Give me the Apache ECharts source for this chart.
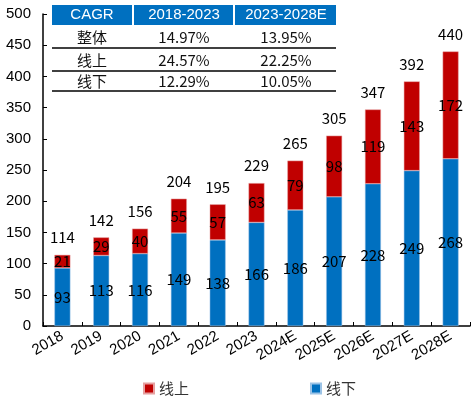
<!DOCTYPE html>
<html>
<head>
<meta charset="utf-8">
<script src="https://cdn.jsdelivr.net/npm/echarts@6/dist/echarts.min.js"></script>
<style>
  html, body { margin: 0; padding: 0; background: #fff; }
  #chart { width: 474px; height: 398px; }
</style>
</head>
<body>
<div id="chart"></div>
<script>
// 카테고리 / 시리즈 데이터
const years = ['2018', '2019', '2020', '2021', '2022', '2023', '2024E', '2025E', '2026E', '2027E', '2028E'];
const offline = [93, 113, 116, 149, 138, 166, 186, 207, 228, 249, 268];
const online = [21, 29, 40, 55, 57, 63, 79, 98, 119, 143, 172];
const totals = [114, 142, 156, 204, 195, 229, 265, 305, 347, 392, 440];

// CAGR 표
const cagrHeader = ['CAGR', '2018-2023', '2023-2028E'];
const cagrRows = ['整体', '线上', '线下'];
const cagrFirst = ['14.97%', '24.57%', '12.29%'];
const cagrSecond = ['13.95%', '22.25%', '10.05%'];

const RED = '#C00000';
const BLUE = '#0070C0';
const CJK = '"Noto Sans CJK SC", sans-serif';

const chart = echarts.init(document.getElementById('chart'));

// 표 그리기 (graphic)
const colX = [92, 184, 286];
const rowY = [37, 60, 81];
const tableLeft = 52, tableRight = 336;
const graphic = [
    { type: 'rect', shape: { x: tableLeft, y: 5, width: tableRight - tableLeft, height: 20 }, style: { fill: BLUE } },
    { type: 'line', shape: { x1: 133, y1: 5, x2: 133, y2: 25 }, style: { stroke: '#fff', lineWidth: 2 } },
    { type: 'line', shape: { x1: 234, y1: 5, x2: 234, y2: 25 }, style: { stroke: '#fff', lineWidth: 2 } }
];
[48, 71, 91].forEach(y => {
    graphic.push({ type: 'line', shape: { x1: tableLeft, y1: y, x2: tableRight, y2: y }, style: { stroke: '#000', lineWidth: 1.5 } });
});
cagrHeader.forEach((t, i) => {
    graphic.push({
        type: 'text', x: colX[i], y: 15,
        style: { text: t, fill: '#fff', font: '15px "Liberation Sans Narrow", "Liberation Sans", sans-serif', align: 'center', verticalAlign: 'middle' }
    });
});
cagrRows.forEach((t, r) => {
    const cells = [t, cagrFirst[r], cagrSecond[r]];
    cells.forEach((c, i) => {
        graphic.push({
            type: 'text', x: colX[i], y: rowY[r],
            style: { text: c, fill: '#111', font: '15px ' + CJK, align: 'center', verticalAlign: 'middle' }
        });
    });
});

const labelStyle = { show: true, position: 'inside', color: '#000', fontSize: 15, fontFamily: CJK };

const option = {
    animation: false,
    textStyle: { fontFamily: CJK },
    grid: { left: 43, right: 4, top: 14, bottom: 72, containLabel: false },
    legend: {
        bottom: 2,
        left: 143,
        padding: 0,
        itemWidth: 10,
        itemHeight: 10,
        itemGap: 121,
        icon: 'rect',
        data: ['线上', '线下'],
        textStyle: { fontSize: 15, color: '#333', fontFamily: CJK }
    },
    xAxis: {
        type: 'category',
        data: years,
        axisLine: { lineStyle: { color: '#000', width: 1.5 } },
        axisTick: { show: true, inside: true, length: 4, lineStyle: { color: '#000' } },
        axisLabel: { rotate: 30, color: '#000', fontSize: 15, fontFamily: 'Liberation Sans, Arial, sans-serif', margin: 9, interval: 0 }
    },
    yAxis: {
        type: 'value',
        min: 0,
        max: 500,
        interval: 50,
        splitLine: { show: false },
        axisLine: { show: true, lineStyle: { color: '#000', width: 1.5 } },
        axisTick: { show: true, inside: true, length: 4, lineStyle: { color: '#000' } },
        axisLabel: { color: '#000', fontSize: 15, fontFamily: 'Liberation Sans, Arial, sans-serif', margin: 12 }
    },
    series: [
        {
            name: '线下',
            type: 'bar',
            stack: 'total',
            barWidth: '41%',
            data: offline,
            itemStyle: { color: BLUE, borderColor: '#9cc3e6', borderWidth: 0.5 },
            label: labelStyle
        },
        {
            name: '线上',
            type: 'bar',
            stack: 'total',
            data: online,
            itemStyle: { color: RED, borderColor: '#e6a0a0', borderWidth: 0.5 },
            label: labelStyle
        },
        {
            name: '合计',
            type: 'bar',
            stack: 'total',
            data: totals.map(() => 0),
            itemStyle: { color: 'transparent' },
            label: {
                show: true,
                position: 'top',
                distance: 10,
                color: '#000',
                fontSize: 15,
                fontFamily: CJK,
                formatter: (p) => totals[p.dataIndex]
            }
        }
    ],
    graphic: graphic
};

chart.setOption(option);
</script>
</body>
</html>
